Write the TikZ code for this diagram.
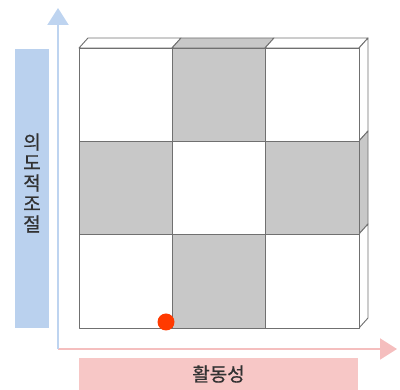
\documentclass[tikz,border=0pt]{standalone}
\usepackage{fontspec}
\setmainfont{Noto Sans CJK KR}[FakeBold=0.6]
\usetikzlibrary{arrows.meta}
\definecolor{cellgray}{RGB}{200,200,200}
\definecolor{edgegray}{RGB}{112,112,112}
\definecolor{axisblue}{RGB}{190,212,240}
\definecolor{boxblue}{RGB}{186,209,238}
\definecolor{axispink}{RGB}{245,190,190}
\definecolor{boxpink}{RGB}{247,199,198}
\definecolor{dotred}{RGB}{255,58,0}
\definecolor{labeltext}{RGB}{50,50,50}
\tikzset{
  whiteface/.style={fill=white, draw=edgegray, line width=0.9pt, line join=round},
  grayface/.style={fill=cellgray, draw=edgegray, line width=0.9pt, line join=round},
  axisline/.style={line width=2pt, -{Triangle[width=21pt,length=17pt]}},
}
\begin{document}
\begin{tikzpicture}[x=1pt, y=-1pt]
  \useasboundingbox (0,0) rectangle (400,390);

  % axes
  \coordinate (origin) at (58,349);
  \coordinate (ytip) at (58,8);
  \coordinate (xtip) at (397,349);
  \draw[axisline, axispink] (origin) -- (xtip);
  \draw[axisline, axisblue] (origin) -- (ytip);

  % top faces
  \filldraw[whiteface] (79,48) -- (88,38) -- (181,38) -- (172,48) -- cycle;
  \filldraw[grayface] (172,48) -- (181,38) -- (274,38) -- (265,48) -- cycle;
  \filldraw[whiteface] (265,48) -- (274,38) -- (368,38) -- (359,48) -- cycle;

  % right side faces
  \filldraw[whiteface] (359,48) -- (368,38) -- (368,131) -- (359,141) -- cycle;
  \filldraw[grayface] (359,141) -- (368,131) -- (368,224) -- (359,234) -- cycle;
  \filldraw[whiteface] (359,234) -- (368,224) -- (368,318) -- (359,328) -- cycle;

  % front cells
  \filldraw[whiteface] (79,48) rectangle (172,141);
  \filldraw[grayface] (172,48) rectangle (265,141);
  \filldraw[whiteface] (265,48) rectangle (359,141);
  \filldraw[grayface] (79,141) rectangle (172,234);
  \filldraw[whiteface] (172,141) rectangle (265,234);
  \filldraw[grayface] (265,141) rectangle (359,234);
  \filldraw[whiteface] (79,234) rectangle (172,328);
  \filldraw[grayface] (172,234) rectangle (265,328);
  \filldraw[whiteface] (265,234) rectangle (359,328);

  \fill[dotred] (166,322) circle (8.5pt);

  % labels
  \node[fill=boxblue, minimum width=34pt, minimum height=279pt, inner sep=0pt] (ylabelbox) at (32,188.5) {};
  \node[align=center, inner sep=0pt, text=labeltext, font=\fontsize{19}{20.5}\selectfont] (ylabel) at (32,183) {의\\도\\적\\조\\절};
  \node[fill=boxpink, minimum width=279pt, minimum height=32pt, inner sep=0pt, text=labeltext, font=\fontsize{19}{20}\selectfont] (xlabel) at (218.5,374) {활동성};
\end{tikzpicture}
\end{document}
